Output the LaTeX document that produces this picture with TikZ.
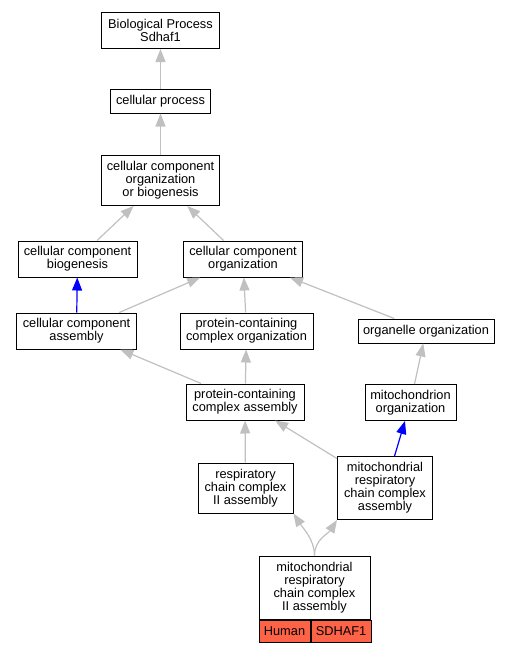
\documentclass[tikz,border=0pt]{standalone}
\usepackage{fontspec}
\setmainfont{Liberation Sans}
\usetikzlibrary{arrows.meta}
\definecolor{isagray}{RGB}{192,192,192}
\definecolor{tomato}{RGB}{255,99,71}
\tikzset{
  term/.style={draw,line width=1pt,align=center,inner xsep=0pt,inner ysep=2pt,
    font=\fontsize{12.8}{13}\selectfont},
  isa/.style={draw=isagray,line width=1.2pt,-{Triangle[length=13pt,width=10pt]}},
  partof/.style={isa,draw=blue}
}
\begin{document}
\begin{tikzpicture}[x=1pt,y=1pt]
\useasboundingbox (0,0) rectangle (511,-651);
\node[term,minimum width=118pt,minimum height=36pt] (bp) at (160.5,-30.5) {Biological Process\\Sdhaf1};
\node[term,minimum width=100pt,minimum height=24pt] (cp) at (160.5,-101) {cellular process};
\node[term,minimum width=118pt,minimum height=50pt] (ccob) at (160.5,-180.5) {cellular component\\organization\\or biogenesis};
\node[term,minimum width=119pt,minimum height=36pt] (ccb) at (77.5,-259) {cellular component\\biogenesis};
\node[term,minimum width=119pt,minimum height=36pt] (cco) at (243,-259) {cellular component\\organization};
\node[term,minimum width=120pt,minimum height=36pt] (cca) at (76.5,-331) {cellular component\\assembly};
\node[term,minimum width=133pt,minimum height=36pt] (pcco) at (246.5,-331) {protein-containing\\complex organization};
\node[term,minimum width=136pt,minimum height=24pt] (oo) at (426,-331) {organelle organization};
\node[term,minimum width=118pt,minimum height=36pt] (pcca) at (245,-402) {protein-containing\\complex assembly};
\node[term,minimum width=91pt,minimum height=36pt] (mo) at (410.5,-402.5) {mitochondrion\\organization};
\node[term,minimum width=95pt,minimum height=50pt] (rcc) at (245.5,-488) {respiratory\\chain complex\\II assembly};
\node[term,minimum width=95pt,minimum height=63pt] (mrcca) at (385,-488) {mitochondrial\\respiratory\\chain complex\\assembly};
\node[term,minimum width=111pt,minimum height=63pt] (gene) at (314.5,-587.5) {mitochondrial\\respiratory\\chain complex\\II assembly};
\node[term,fill=tomato,minimum width=51pt,minimum height=22pt,anchor=north west] (human) at (gene.south west) {Human};
\node[term,fill=tomato,minimum width=60pt,minimum height=22pt,anchor=north west] (sdhaf) at (human.north east) {SDHAF1};
% is_a and part_of links
\draw[isa] (cp) -- (bp);
\draw[isa] (ccob) -- (cp);
\draw[isa] (ccb) -- (ccob);
\draw[isa] (cco) -- (ccob);
\draw[partof] (cca) -- (ccb);
\draw[isa] (cca) -- (cco);
\draw[isa] (pcco) -- (cco);
\draw[isa] (oo) -- (cco);
\draw[isa] (pcca) -- (cca);
\draw[isa] (pcca) -- (pcco);
\draw[isa] (mo) -- (oo);
\draw[isa] (rcc) -- (pcca);
\draw[isa] (mrcca) -- (pcca);
\draw[partof] (mrcca) -- (mo);
\draw[isa] (gene.north) .. controls +(0,16) and +(9,-14) .. (rcc.south east);
\draw[isa] (gene.north) .. controls +(0,16) and +(-9,-14) .. (mrcca.south west);
\end{tikzpicture}
\end{document}
